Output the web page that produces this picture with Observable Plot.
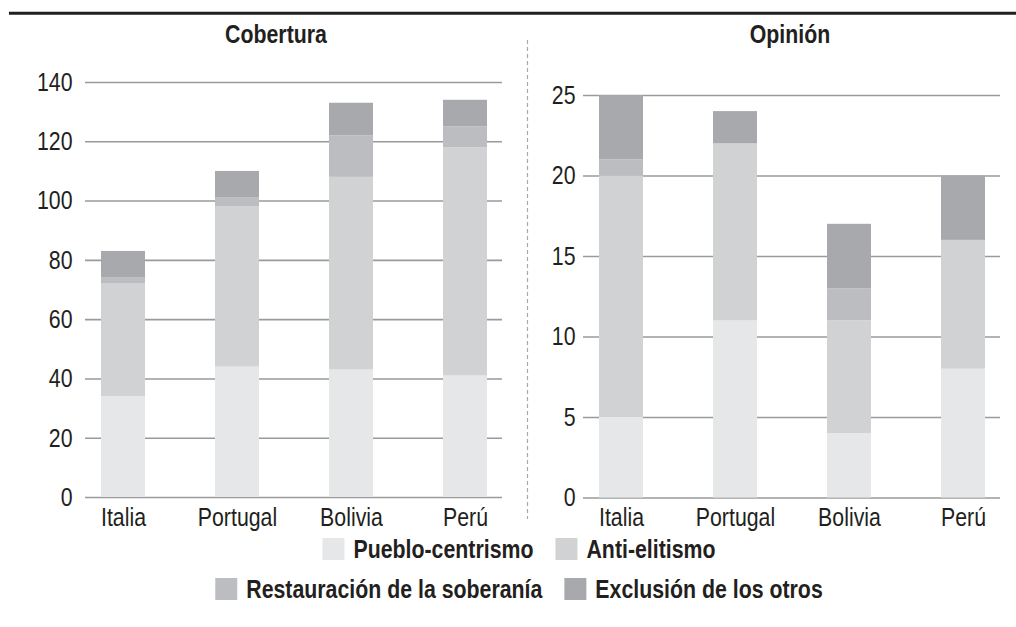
<!DOCTYPE html>
<html>
<head>
<meta charset="utf-8">
<script src="https://cdn.jsdelivr.net/npm/d3@7"></script>
<script src="https://cdn.jsdelivr.net/npm/@observablehq/plot@0.6"></script>
<style>
  html, body { margin: 0; padding: 0; background: #fff; }
  #root { position: relative; width: 1016px; height: 627px; overflow: hidden; }
  .panel { position: absolute; }
</style>
</head>
<body>
<div id="root"></div>
<script>
const countries = ["Italia", "Portugal", "Bolivia", "Perú"];
const categories = ["Pueblo-centrismo", "Anti-elitismo", "Restauración de la soberanía", "Exclusión de los otros"];
const colors = ["#e6e7e8", "#d1d2d4", "#bcbdc0", "#a7a9ac"];

const coberturaPueblo = [34, 44, 43, 41];
const coberturaAnti   = [38, 54, 65, 77];
const coberturaRest   = [2, 3, 14, 7];
const coberturaExcl   = [9, 9, 11, 9];

const opinionPueblo = [5, 11, 4, 8];
const opinionAnti   = [15, 11, 7, 8];
const opinionRest   = [1, 0, 2, 0];
const opinionExcl   = [4, 2, 4, 4];

const ticksCobertura = [0, 20, 40, 60, 80, 100, 120, 140];
const ticksOpinion = [0, 5, 10, 15, 20, 25];

const panelTitles = ["Cobertura", "Opinión"];

function toRows(series) {
  const rows = [];
  series.forEach((vals, k) => vals.forEach((v, i) => rows.push({country: countries[i], category: categories[k], value: v})));
  return rows;
}
const coberturaData = toRows([coberturaPueblo, coberturaAnti, coberturaRest, coberturaExcl]);
const opinionData = toRows([opinionPueblo, opinionAnti, opinionRest, opinionExcl]);

const FONT = '"Liberation Sans", Arial, sans-serif';
const SX = 0.82; // condensed look
const INK = "#231f20";
const root = document.getElementById("root");

function condense(svgNode) {
  svgNode.querySelectorAll("text").forEach(t => {
    let tr = t.getAttribute("transform") || "";
    const x = t.getAttribute("x");
    if (x != null && isFinite(+x)) {
      tr = `translate(${+x},0) ` + tr;
      t.removeAttribute("x");
    }
    t.setAttribute("transform", (tr + ` scale(${SX},1)`).trim());
  });
}

function panel(data, ticks, opts) {
  const svg = Plot.plot({
    width: opts.width, height: 480,
    marginLeft: opts.ml, marginRight: opts.mr, marginTop: opts.mt, marginBottom: opts.mb,
    style: {fontFamily: FONT, fontSize: "26px", color: INK, background: "transparent"},
    x: {domain: countries, paddingInner: 0.617, paddingOuter: 0.13},
    y: {domain: [0, ticks[ticks.length - 1]]},
    color: {domain: categories, range: colors},
    marks: [
      Plot.gridY(ticks, {stroke: "#9a9a9a", strokeOpacity: 1, strokeWidth: 1.6}),
      Plot.barY(data, {x: "country", y: "value", fill: "category"}),
      Plot.axisY(ticks, {tickSize: 0, tickPadding: opts.tp, label: null, fill: INK, fontSize: 26}),
      Plot.axisX({tickSize: 0, tickPadding: 10, label: null, fill: INK, fontSize: 26})
    ]
  });
  svg.classList.add("panel");
  svg.style.left = opts.left + "px";
  svg.style.top = "60px";
  condense(svg);
  root.appendChild(svg);
}

panel(coberturaData, ticksCobertura, {left: 0, width: 520, ml: 85, mr: 18, mt: 22, mb: 43, tp: 13});
panel(opinionData, ticksOpinion, {left: 520, width: 496, ml: 63, mr: 16, mt: 35, mb: 42.5, tp: 8});

// decorations: top rule, dashed divider, titles, legend
const deco = d3.create("svg").attr("width", 1016).attr("height", 627)
  .style("position", "absolute").style("left", 0).style("top", 0)
  .style("font-family", FONT).style("fill", INK);
root.appendChild(deco.node());

deco.append("line").attr("x1", 9).attr("x2", 1016).attr("y1", 13.3).attr("y2", 13.3)
  .attr("stroke", INK).attr("stroke-width", 3);
deco.append("line").attr("x1", 527.5).attr("x2", 527.5).attr("y1", 40).attr("y2", 519)
  .attr("stroke", "#a8a8a8").attr("stroke-width", 1.2).attr("stroke-dasharray", "4 3");

[[276, panelTitles[0]], [790, panelTitles[1]]].forEach(([cx, t]) => {
  deco.append("text").text(t)
    .attr("transform", `translate(${cx},43) scale(${SX},1)`)
    .attr("text-anchor", "middle").attr("font-weight", "bold").attr("font-size", 26).attr("fill", INK);
});

// legend, two centered rows
const LCX = 519, SW = 22, GAP_TXT = 9, GAP_ITEM = 22;
[[0, 1], [2, 3]].forEach((idx, r) => {
  const cy = r === 0 ? 549 : 589;
  const g = deco.append("g");
  let x = 0;
  idx.forEach((k, j) => {
    if (j > 0) x += GAP_ITEM;
    g.append("rect").attr("x", x).attr("y", cy - SW / 2).attr("width", SW).attr("height", SW).attr("fill", colors[k]);
    x += SW + GAP_TXT;
    const t = g.append("text").text(categories[k])
      .attr("font-weight", "bold").attr("font-size", 26).attr("fill", INK)
      .attr("transform", `translate(${x},${cy + 9}) scale(${SX},1)`);
    x += t.node().getComputedTextLength() * SX;
  });
  g.attr("transform", `translate(${LCX - x / 2},0)`);
});
</script>
</body>
</html>
